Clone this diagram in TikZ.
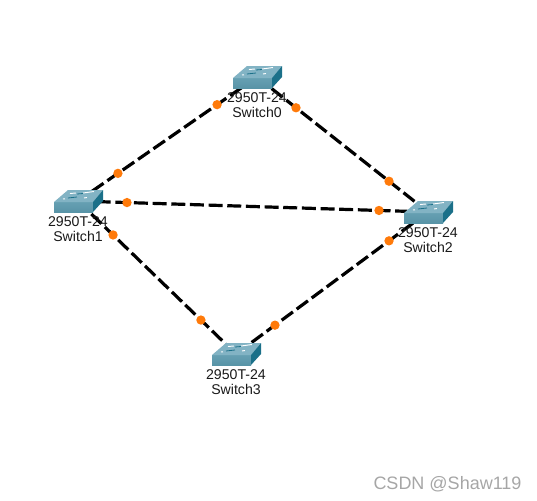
\documentclass[tikz,border=0pt]{standalone}
\usepackage{fontspec}
\setmainfont{Liberation Sans}
\usetikzlibrary{positioning,backgrounds}
\definecolor{swfront}{HTML}{5FA0B5}
\definecolor{swtop}{HTML}{82B3C4}
\definecolor{swside}{HTML}{1B7089}
\definecolor{portdot}{HTML}{FF7A0A}
\newcommand{\swbody}{%
  \fill[top color=swfront!85!white, bottom color=swfront!92!black] (-24,1) -- (15,1) -- (15,11) -- (-24,11) -- cycle;
  \fill[swtop] (-24,1) -- (-10,-11) -- (25,-11) -- (15,1) -- cycle;
  \fill[swside] (15,1) -- (25,-11) -- (25,0) -- (15,11) -- cycle;
  \draw[white, line width=0.7pt] (-8,-7.5) -- (-2,-8) (5,-8) -- (16,-9.5) (-15,-2) -- (-13,-2.2) (6,-3) -- (9,-3.5);
  \draw[swside, line width=0.6pt] (-10,-3) -- (-1,-4) (-1,-7) -- (5,-7.5);
}
\begin{document}
\begin{tikzpicture}[
  x=0.75pt, y=-0.75pt,
  switch/.style={minimum width=37.5pt, minimum height=17.25pt, inner sep=0pt, path picture={\swbody}},
  swlabel/.style={inner sep=0pt, align=center, font=\fontsize{10.6}{10.9}\selectfont, text=black!90},
  link/.style={line width=2.4pt, dash pattern=on 10.5pt off 3.5pt},
  port/.style={circle, fill=portdot, inner sep=0pt, minimum size=7pt}
]
\useasboundingbox (0,0) rectangle (537,501);

% Switches
\node[switch] (S0) at (257,77) {};
\node[switch] (S1) at (78,201) {};
\node[switch] (S2) at (428,212) {};
\node[switch] (S3) at (236,354) {};

\node[swlabel, below=2.8pt of S0] (L0) {2950T-24\\Switch0};
\node[swlabel, below=2.8pt of S1] (L1) {2950T-24\\Switch1};
\node[swlabel, below=2.8pt of S2] (L2) {2950T-24\\Switch2};
\node[swlabel, below=2.8pt of S3] (L3) {2950T-24\\Switch3};

% Links with port dots
\begin{pgfonlayer}{background}
\draw[link] (S0.center) -- (S1.center);
\draw[link] (S0.center) -- (S2.center);
\draw[link] (S1.center) -- (S2.center);
\draw[link] (S1.center) -- (S3.center);
\draw[link] (S2.center) -- (S3.center);
\end{pgfonlayer}

\path (S0.center) -- node[port, pos=0.223] (P01) {} node[port, pos=0.777] (P10) {} (S1.center);
\path (S0.center) -- node[port, pos=0.228] (P02) {} node[port, pos=0.772] (P20) {} (S2.center);
\path (S1.center) -- node[port, pos=0.140] (P12) {} node[port, pos=0.860] (P21) {} (S2.center);
\path (S1.center) -- node[port, pos=0.222] (P13) {} node[port, pos=0.778] (P31) {} (S3.center);
\path (S2.center) -- node[port, pos=0.203] (P23) {} node[port, pos=0.797] (P32) {} (S3.center);

% Watermark
\node[font=\fontsize{13.5}{16}\selectfont, text=black!35] (W) at (447.5,484) {CSDN @Shaw119};
\end{tikzpicture}
\end{document}
